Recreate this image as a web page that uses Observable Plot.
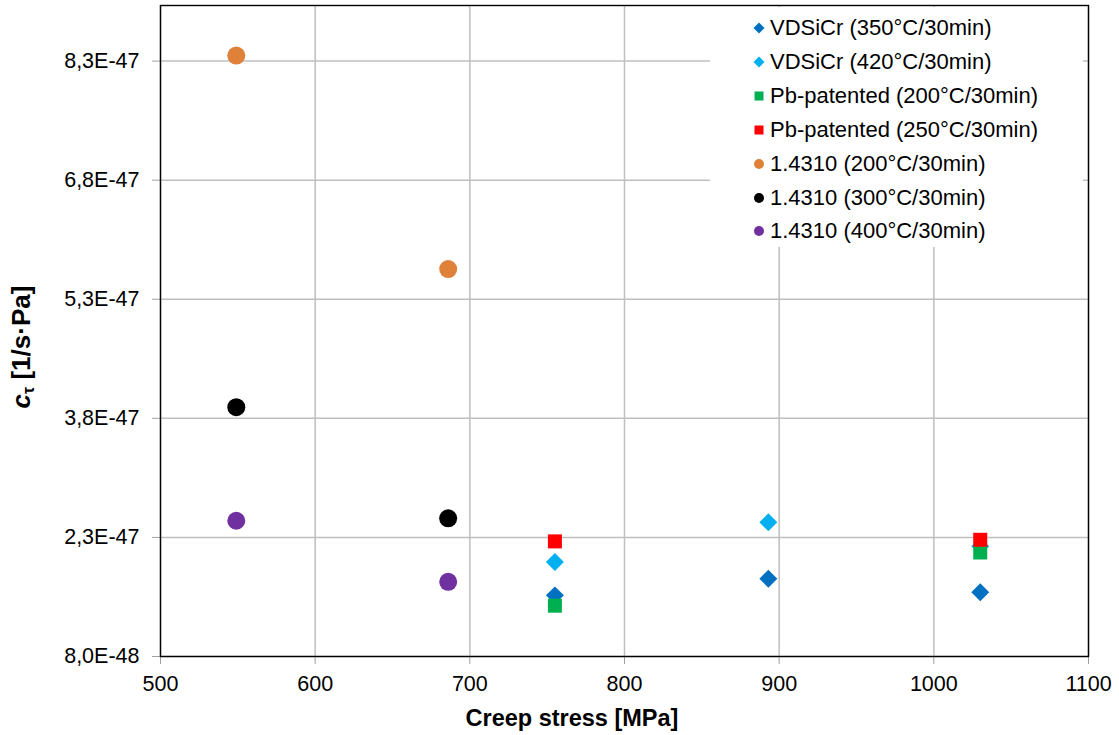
<!DOCTYPE html>
<html>
<head>
<meta charset="utf-8">
<script src="https://cdn.jsdelivr.net/npm/d3@7"></script>
<script src="https://cdn.jsdelivr.net/npm/@observablehq/plot@0.6"></script>
<style>
  body { margin: 0; background: #fff; font-family: "Liberation Sans", Arial, sans-serif; }
  #wrap { position: relative; width: 1119px; height: 735px; overflow: hidden; }
  #wrap svg.plot { position: absolute; left: 0; top: 0; }
  .ytitle { position: absolute; left: 22px; top: 347px; transform: translate(-50%, -50%) rotate(-90deg);
            white-space: nowrap; font-weight: bold; font-size: 26px; line-height: 1; color: #000; }
  .ytitle sub { font-size: 16px; vertical-align: -4px; }
  .xtitle { position: absolute; left: 572px; top: 719px; transform: translate(-50%, -50%);
            white-space: nowrap; font-weight: bold; font-size: 23.5px; line-height: 1; color: #000; }
  #legend { position: absolute; left: 710px; top: 7px; width: 373px; height: 240px; background: #fff; }
  .lrow { position: absolute; left: 0; height: 24px; line-height: 24px; font-size: 22px; color: #000; white-space: nowrap; }
  .lrow svg { position: absolute; left: 43px; top: 6px; }
  .lrow span { position: absolute; left: 60px; top: 0; }
</style>
</head>
<body>
<div id="wrap"></div>
<script>
// Creep coefficient c_tau against creep stress for the spring wire grades
const seriesNames = [
  "VDSiCr (350°C/30min)",
  "VDSiCr (420°C/30min)",
  "Pb-patented (200°C/30min)",
  "Pb-patented (250°C/30min)",
  "1.4310 (200°C/30min)",
  "1.4310 (300°C/30min)",
  "1.4310 (400°C/30min)"
];
const seriesColors = ["#0070C0", "#00B0F0", "#00B050", "#FF0000", "#DF8139", "#000000", "#7030A0"];
const seriesSymbols = ["diamond2", "diamond2", "square", "square", "circle", "circle", "circle"];

// creep stress [MPa] and c_tau [1/(s·Pa)] for each series
const stressVDSiCr350 = [755, 893, 1030];
const ctVDSiCr350 = [1.57e-47, 1.78e-47, 1.61e-47];
const stressVDSiCr420 = [755, 893, 1030];
const ctVDSiCr420 = [1.99e-47, 2.49e-47, 2.19e-47];
const stressPb200 = [755, 1030];
const ctPb200 = [1.44e-47, 2.11e-47];
const stressPb250 = [755, 1030];
const ctPb250 = [2.25e-47, 2.27e-47];
const stress4310_200 = [549, 686];
const ct4310_200 = [8.37e-47, 5.68e-47];
const stress4310_300 = [549, 686];
const ct4310_300 = [3.94e-47, 2.54e-47];
const stress4310_400 = [549, 686];
const ct4310_400 = [2.51e-47, 1.74e-47];

const xTicks = [500, 600, 700, 800, 900, 1000, 1100];
const yTicks = [8.0e-48, 2.3e-47, 3.8e-47, 5.3e-47, 6.8e-47, 8.3e-47];

const seriesStress = [stressVDSiCr350, stressVDSiCr420, stressPb200, stressPb250, stress4310_200, stress4310_300, stress4310_400];
const seriesCt = [ctVDSiCr350, ctVDSiCr420, ctPb200, ctPb250, ct4310_200, ct4310_300, ct4310_400];

// marker radius per symbol type
const markerR = { diamond2: 8.1, square: 7.9, circle: 9 };

const fmtSci = v => v.toExponential(1).replace(".", ",").replace("e", "E");

const dotMarks = seriesNames.map((name, i) => {
  const rows = seriesStress[i].map((s, j) => ({ stress: s, ct: seriesCt[i][j], series: name }));
  return Plot.dot(rows, {
    x: "stress", y: "ct",
    symbol: () => seriesSymbols[i],
    r: markerR[seriesSymbols[i]],
    fill: seriesColors[i], stroke: "none"
  });
});

const chart = Plot.plot({
  width: 1119,
  height: 735,
  marginLeft: 160,
  marginRight: 31,
  marginTop: 5,
  marginBottom: 79,
  style: { fontFamily: "Liberation Sans, Arial, sans-serif", fontSize: "21px", color: "#000", background: "transparent" },
  x: { domain: [500, 1100], ticks: xTicks, label: null },
  y: { domain: [8.0e-48, 9.0e-47], ticks: yTicks, label: null },
  symbol: { type: "identity" },
  marks: [
    Plot.gridX(xTicks, { stroke: "#bfbfbf", strokeOpacity: 1, strokeWidth: 1.5 }),
    Plot.gridY(yTicks, { stroke: "#bfbfbf", strokeOpacity: 1, strokeWidth: 1.5 }),
    Plot.axisX(xTicks, { tickSize: 8, tickPadding: 11, stroke: "#a0a0a0", fill: "#000", fontSize: 21.5, tickFormat: d => String(d), label: null }),
    Plot.axisY(yTicks, { tickSize: 8, tickPadding: 13, stroke: "#a0a0a0", fill: "#000", fontSize: 21.5, tickFormat: fmtSci, label: null }),
    ...dotMarks,
    Plot.frame({ stroke: "#000", strokeWidth: 1.4 })
  ]
});

const wrap = document.getElementById("wrap");
wrap.appendChild(chart);

// axis titles
const yTitle = document.createElement("div");
yTitle.className = "ytitle";
yTitle.innerHTML = "<i>c</i><sub>τ</sub> [1/s·Pa]";
wrap.appendChild(yTitle);

const xTitle = document.createElement("div");
xTitle.className = "xtitle";
xTitle.textContent = "Creep stress [MPa]";
wrap.appendChild(xTitle);

// legend box in the upper right corner of the plot area
const legend = document.createElement("div");
legend.id = "legend";
wrap.appendChild(legend);
const legendSymbolPath = {
  diamond2: "M6,0.5 L11.5,6 L6,11.5 L0.5,6 Z",
  square: "M1.5,1.5 H10.5 V10.5 H1.5 Z",
  circle: null
};
seriesNames.forEach((name, i) => {
  const row = document.createElement("div");
  row.className = "lrow";
  row.style.top = (28 + 33.9 * i - 7 - 12) + "px";
  const sym = seriesSymbols[i];
  const shape = sym === "circle"
    ? `<circle cx="6" cy="6" r="5" fill="${seriesColors[i]}"/>`
    : `<path d="${legendSymbolPath[sym]}" fill="${seriesColors[i]}"/>`;
  row.innerHTML = `<svg width="12" height="12">${shape}</svg><span>${name}</span>`;
  legend.appendChild(row);
});
</script>
</body>
</html>
